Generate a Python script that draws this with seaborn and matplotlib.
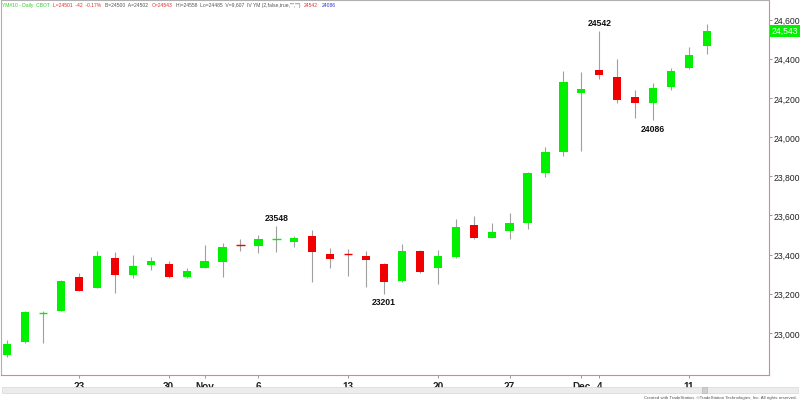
import matplotlib
matplotlib.use("Agg")
import matplotlib.pyplot as plt
import numpy as np
import pandas as pd
import seaborn as sns
from matplotlib.patches import Rectangle

# ---------------- data ----------------
dates = ["Oct 17", "Oct 18", "Oct 19", "Oct 20",
         "Oct 23", "Oct 24", "Oct 25", "Oct 26", "Oct 27",
         "Oct 30", "Oct 31", "Nov 1", "Nov 2", "Nov 3",
         "Nov 6", "Nov 7", "Nov 8", "Nov 9", "Nov 10",
         "Nov 13", "Nov 14", "Nov 15", "Nov 16", "Nov 17",
         "Nov 20", "Nov 21", "Nov 22", "Nov 24",
         "Nov 27", "Nov 28", "Nov 29", "Nov 30", "Dec 1",
         "Dec 4", "Dec 5", "Dec 6", "Dec 7", "Dec 8",
         "Dec 11", "Dec 12"]
opens = [22885, 22955, 23102, 23113,
         23284, 23231, 23383, 23297, 23345,
         23352, 23284, 23333, 23364, 23450,
         23444, 23480, 23466, 23497, 23402,
         23403, 23391, 23352, 23267, 23420,
         23330, 23386, 23553, 23486,
         23521, 23560, 23817, 23923, 24227,
         24343, 24309, 24204, 24174, 24258,
         24353, 24465]
highs = [22965, 23112, 23112, 23270,
         23305, 23417, 23412, 23398, 23386,
         23367, 23330, 23450, 23459, 23480,
         23500, 23548, 23497, 23527, 23432,
         23429, 23417, 23355, 23454, 23425,
         23425, 23582, 23596, 23561,
         23612, 23820, 23948, 24339, 24331,
         24542, 24399, 24242, 24277, 24352,
         24459, 24578]
lows = [22875, 22950, 22950, 23110,
        23212, 23228, 23204, 23282, 23323,
        23280, 23278, 23330, 23284, 23420,
        23407, 23415, 23440, 23258, 23330,
        23289, 23233, 23201, 23262, 23305,
        23250, 23382, 23482, 23483,
        23480, 23530, 23795, 23905, 23931,
        24297, 24174, 24096, 24086, 24242,
        24348, 24425]
closes = [22945, 23105, 23106, 23267,
          23216, 23394, 23294, 23342, 23369,
          23284, 23318, 23366, 23439, 23446,
          23480, 23484, 23486, 23412, 23378,
          23400, 23374, 23258, 23420, 23310,
          23391, 23539, 23485, 23514,
          23561, 23815, 23923, 24280, 24246,
          24317, 24190, 24174, 24250, 24339,
          24421, 24543]

tick_dates = ["Oct 23", "Oct 30", "Nov 1", "Nov 6", "Nov 13", "Nov 20",
              "Nov 27", "Dec 1", "Dec 4", "Dec 11"]
tick_labels = ["23", "30", "Nov", "6", "13", "20", "27", "Dec", "4", "11"]
y_ticks = [23000, 23200, 23400, 23600, 23800, 24000, 24200, 24400, 24600]

# swing-point annotations
swing_dates = ["Nov 7", "Nov 15", "Dec 4", "Dec 7"]
swing_values = [23548, 23201, 24542, 24086]
swing_side = ["high", "low", "high", "low"]

# header pieces
header_texts = ["YM#10 - Daily  CBOT", "L=24501  -42  -0.17%",
                "B=24500  A=24502", "O=24543",
                "Hi=24558  Lo=24485  V=9,607  IV YM (2,false,true,\"\",\"\")",
                "24542", "24086"]
header_colors = ["#33cc33", "#e03030", "#555555", "#e03030",
                 "#555555", "#e03030", "#3030e0"]

# ---------------- style ----------------
sns.set_theme(style="white")
plt.rcParams["font.family"] = ["Liberation Sans", "DejaVu Sans"]

GREEN = "#00f000"
RED = "#f00000"
WICK = "#a0a0a0"
AXRED = "#e88080"

df = pd.DataFrame({"date": dates, "open": opens, "high": highs,
                   "low": lows, "close": closes})
df["pos"] = np.arange(len(df))
df["up"] = df["close"] >= df["open"]

fig = plt.figure(figsize=(8.0, 4.02), dpi=100)
W, H = 800, 402
ax = fig.add_axes([1 / W, 26 / H, 768 / W, 375 / H])
ax.set_facecolor("white")

# wicks
ax.vlines(df["pos"], df["low"], df["high"], color=WICK, linewidth=0.8, zorder=1)

# bodies
body_w = 0.46
for _, r in df.iterrows():
    col = GREEN if r["up"] else RED
    lo = min(r["open"], r["close"])
    hgt = abs(r["close"] - r["open"])
    if hgt < 6:
        ax.hlines((r["open"] + r["close"]) / 2, r["pos"] - body_w / 2,
                  r["pos"] + body_w / 2, color=col, linewidth=1.0, zorder=2)
    else:
        ax.bar(r["pos"], hgt, bottom=lo, width=body_w, color=col,
               edgecolor="none", linewidth=0, zorder=2)

# swing annotations
pos_of = {d: i for i, d in enumerate(dates)}
for d, v, s in zip(swing_dates, swing_values, swing_side):
    off, va = ((0, 2.5), "bottom") if s == "high" else ((0, -2.5), "top")
    ax.annotate(str(v), (pos_of[d], v), xytext=off,
                textcoords="offset points", ha="center", va=va,
                fontsize=6.2, fontweight="bold", color="#111111")

ax.set_xlim(-0.35, 42.46)
ax.set_ylim(22785, 24700)

# axes / ticks
ax.yaxis.tick_right()
ax.set_yticks(y_ticks)
ax.set_yticklabels([f"{t:,}" for t in y_ticks])
ax.tick_params(axis="y", which="both", right=True, left=False, length=2.5,
               width=0.7, color="#999999", pad=1, labelsize=6.2,
               labelcolor="#222222")
ax.set_xticks([pos_of[d] for d in tick_dates])
ax.set_xticklabels(tick_labels)
ax.tick_params(axis="x", bottom=True, length=2.5, width=0.7, color="#999999",
               pad=2, labelsize=7.2, labelcolor="#222222")
for lab in ax.get_xticklabels():
    lab.set_fontweight("bold")
ax.grid(False)

for side in ["left", "top"]:
    ax.spines[side].set_color("#b0b0b0")
    ax.spines[side].set_linewidth(0.8)
for side in ["right", "bottom"]:
    ax.spines[side].set_color(AXRED)
    ax.spines[side].set_linewidth(0.8)

# last-price tag
last = closes[-1]
ax.annotate(f"{last:,}", xy=(1.0, last), xycoords=("axes fraction", "data"),
            xytext=(2, 0), textcoords="offset points", ha="left", va="center",
            fontsize=6.2, color="white",
            bbox=dict(boxstyle="square,pad=0.15", fc=GREEN, ec="none"),
            annotation_clip=False)

# header line, laid out sequentially
renderer = fig.canvas.get_renderer()
hdr_y = 1 - 5.5 / H
x = 2.0
for t, c in zip(header_texts, header_colors):
    txt = fig.text(x / W, hdr_y, t, fontsize=3.6, color=c, ha="left", va="center")
    bb = txt.get_window_extent(renderer=renderer)
    x += bb.width + 3.5

# scrollbar
fig.patches.append(Rectangle((2 / W, (402 - 394) / H), 796 / W, 6 / H,
                             transform=fig.transFigure, fc="#ececec",
                             ec="#d8d8d8", lw=0.5))
fig.patches.append(Rectangle((702 / W, (402 - 394) / H), 5 / W, 6 / H,
                             transform=fig.transFigure, fc="#cfcfcf",
                             ec="#b8b8b8", lw=0.5))

# footer
fig.text(797 / W, 1 - 398.5 / H,
         "Created with TradeStation. \u00a9TradeStation Technologies, Inc. All rights reserved.",
         fontsize=3.2, color="#555555", ha="right", va="center")

fig.savefig("out.png", dpi=100, facecolor="white")
